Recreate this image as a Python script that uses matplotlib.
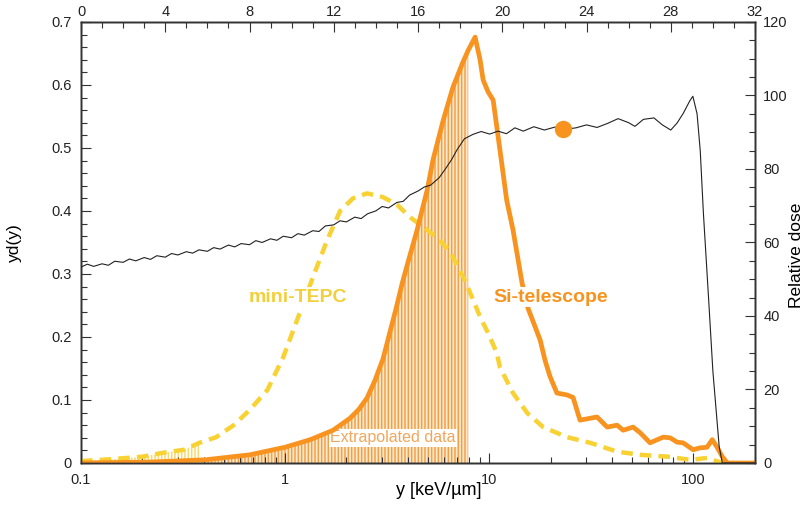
import matplotlib.pyplot as plt
import numpy as np
from matplotlib.ticker import MultipleLocator, LogLocator, NullFormatter, FuncFormatter

plt.rcParams['font.family'] = ['Liberation Sans', 'DejaVu Sans']
plt.rcParams['hatch.linewidth'] = 1.1

# Si-telescope spectrum (bottom log axis, left axis)
si_y = [0.1, 0.22, 0.405, 0.673, 1.0, 1.33, 1.72, 2.08, 2.3, 2.52, 2.75, 3.02, 3.25, 3.5,
        3.75, 4.0, 4.44, 4.97, 5.31, 5.96, 6.66, 7.46, 7.9, 8.54, 9.03, 9.35, 9.89, 10.47,
        11.3, 12.2, 13.1, 14.5, 15.5, 17.8, 18.8, 19.9, 21.5, 24.1, 25.8, 27.9, 31.3, 33.8,
        37.9, 42.4, 45.4, 50.8, 55.0, 61.5, 71.3, 77.1, 83.5, 89.3, 100, 108, 117, 124,
        131, 139, 147, 201]
si_yd = [0.0, 0.0015, 0.005, 0.013, 0.025, 0.037, 0.052, 0.071, 0.085, 0.103, 0.13, 0.165, 0.205, 0.245,
         0.285, 0.318, 0.37, 0.433, 0.481, 0.544, 0.597, 0.637, 0.655, 0.676, 0.64, 0.608, 0.589, 0.576,
         0.497, 0.417, 0.37, 0.286, 0.246, 0.195, 0.163, 0.137, 0.111, 0.108, 0.104, 0.068, 0.071, 0.073,
         0.057, 0.06, 0.052, 0.057, 0.048, 0.032, 0.041, 0.040, 0.033, 0.032, 0.021, 0.024, 0.025, 0.037,
         0.025, 0.01, 0.0, 0.0]

# mini-TEPC spectrum
tepc_y = [0.1, 0.14, 0.2, 0.25, 0.32, 0.38, 0.46, 0.56, 0.67, 0.82, 0.98, 1.18, 1.37,
          1.61, 1.86, 2.15, 2.52, 3.02, 3.54, 4.1, 4.97, 5.8, 6.5, 7.6, 8.35, 9.03, 9.89,
          10.9, 11.3, 13.1, 15.4, 18.4, 24.1, 31.3, 42.4, 55, 75, 97, 117, 130, 140]
tepc_yd = [0.003, 0.006, 0.01, 0.016, 0.021, 0.032, 0.041, 0.06, 0.084, 0.116, 0.168, 0.238, 0.295,
           0.354, 0.40, 0.42, 0.428, 0.422, 0.41, 0.39, 0.37, 0.352, 0.333, 0.29, 0.259, 0.232, 0.206,
           0.175, 0.152, 0.111, 0.079, 0.057, 0.041, 0.032, 0.018, 0.013, 0.01, 0.005, 0.008, 0.003, 0.0]

# depth dose curve (top axis, right axis)
depth = [0, 0.3, 0.6, 1.0, 1.3, 1.6, 2.0, 2.3, 2.6, 3.0, 3.3, 3.6, 4.0, 4.3, 4.6, 5.0, 5.3,
         5.6, 6.0, 6.3, 6.6, 7.0, 7.3, 7.6, 8.0, 8.3, 8.6, 9.0, 9.3, 9.6, 10.0, 10.3, 10.6,
         11.0, 11.3, 11.6, 12.0, 12.3, 12.6, 13.0, 13.3, 13.6, 14.0, 14.3, 14.6, 15.0, 15.3,
         15.6, 16.0, 16.3, 16.6, 17.0, 17.3, 17.6, 17.85, 18.2, 18.6, 19.0, 19.4, 19.8,
         20.2, 20.6, 21.0, 21.5, 22.0, 22.5, 23.0, 23.5, 24.0, 24.5, 25.0, 25.5, 26.0, 26.3,
         26.7, 27.2, 27.6, 28.0, 28.3, 28.6, 28.9, 29.05, 29.25, 29.4, 29.55, 29.8, 30.0,
         30.3, 30.45, 32]
dose = [53.3, 54.1, 53.5, 54.2, 53.8, 54.9, 54.6, 55.5, 55.0, 55.9, 55.4, 56.4, 56.0, 57.0,
        56.6, 57.5, 57.1, 58.0, 57.6, 58.6, 58.2, 59.3, 58.8, 59.7, 59.4, 60.5, 60.0, 61.0,
        60.6, 61.7, 61.3, 62.4, 62.0, 63.2, 63.0, 64.5, 64.8, 65.9, 65.6, 66.9, 66.5, 67.8,
        68.6, 69.8, 69.4, 70.9, 71.2, 72.9, 74.0, 75.1, 75.6, 77.6, 80.0, 82.6, 85.2, 88.2,
        89.4, 90.2, 89.5, 90.3, 89.6, 91.2, 90.3, 91.5, 90.6, 91.4, 90.8, 91.2, 92.0, 91.3,
        92.4, 93.7, 92.6, 91.6, 93.5, 93.9, 92.0, 90.6, 92.5, 95.2, 98.5, 99.8, 95.0, 85.0,
        68.0, 44.4, 25.0, 4.4, 0.0, 0.0]
dot_depth = [22.9]
dot_dose = [90.9]

orange = '#F7931E'
yellow = '#F8D232'
axis_col = '#333333'

fig = plt.figure(figsize=(8.1, 5.09), dpi=100)
ax = fig.add_axes([0.1, 0.0904, 0.8321, 0.8664])
ax.set_xscale('log')

si_x = np.array(si_y)
si_v = np.array(si_yd)
m = si_x <= 7.95
ax.fill_between(si_x[m], 0, si_v[m], facecolor='#FCEBD0', edgecolor='#F2A048',
                hatch='|||||', linewidth=0, zorder=1)
tx = np.array(tepc_y)
tv = np.array(tepc_yd)
mt = tx <= 0.39
ax.fill_between(tx[mt], 0, tv[mt], facecolor='none', edgecolor='#F8D870',
                hatch='|||||', linewidth=0, zorder=1)

ax.plot(tepc_y, tepc_yd, color=yellow, lw=3.2, dashes=(2.6, 1.6), zorder=3)
ax.plot(si_y, si_yd, color=orange, lw=3.4, zorder=4, solid_joinstyle='round')

ax.text(3.38, 0.04, 'Extrapolated data', color='#F2A659', fontsize=11.5,
        ha='center', va='center', zorder=2,
        bbox=dict(facecolor='white', edgecolor='none', pad=1))
ax.text(1.15, 0.263, 'mini-TEPC', color='#F3CF3A', fontsize=14, fontweight='bold',
        ha='center', va='center', zorder=5,
        bbox=dict(facecolor='white', edgecolor='none', pad=1))
ax.text(20.1, 0.263, 'Si-telescope', color=orange, fontsize=14, fontweight='bold',
        ha='center', va='center', zorder=5,
        bbox=dict(facecolor='white', edgecolor='none', pad=1))

ax.set_xlim(0.1, 201)
ax.set_ylim(0, 0.7)
ax.yaxis.set_major_locator(MultipleLocator(0.1))
ax.yaxis.set_minor_locator(MultipleLocator(0.02))
ax.yaxis.set_major_formatter(FuncFormatter(lambda v, p: f'{v:g}'))
ax.xaxis.set_major_locator(LogLocator(base=10))
ax.xaxis.set_minor_locator(LogLocator(base=10, subs=np.arange(2, 10)))
ax.xaxis.set_minor_formatter(NullFormatter())
ax.xaxis.set_major_formatter(FuncFormatter(lambda v, p: f'{v:g}'))
ax.tick_params(which='both', direction='in', color=axis_col, labelcolor='#222222',
               labelsize=10.5, width=0.8)
ax.tick_params(which='major', length=7, pad=7)
ax.tick_params(which='minor', length=4)
ax.set_xlabel('y [keV/µm]', fontsize=13)
ax.set_ylabel('yd(y)', fontsize=12.5)
ax.xaxis.set_label_coords(0.531, -0.043)
ax.yaxis.set_label_coords(-0.088, 0.5)

ax2 = ax.twinx()
ax2.set_ylim(0, 120)
ax2.yaxis.set_major_locator(MultipleLocator(20))
ax2.yaxis.set_minor_locator(MultipleLocator(5))
ax2.tick_params(which='both', direction='in', color=axis_col, labelcolor='#222222',
                labelsize=10.5, width=0.8)
ax2.tick_params(which='major', length=7, pad=6)
ax2.tick_params(which='minor', length=4)
ax2.set_ylabel('Relative dose', fontsize=12.5)
ax2.yaxis.set_label_coords(1.05, 0.47)

ax3 = ax2.twiny()
ax3.set_xlim(0, 32)
ax3.xaxis.set_major_locator(MultipleLocator(4))
ax3.xaxis.set_minor_locator(MultipleLocator(1))
ax3.tick_params(which='both', direction='in', color=axis_col, labelcolor='#222222',
                labelsize=10.5, width=0.8)
ax3.tick_params(which='major', length=7, pad=2)
ax3.tick_params(which='minor', length=4)
ax3.plot(depth, dose, color='#222222', lw=0.8, zorder=3)
ax3.plot(dot_depth, dot_dose, 'o', color=orange, markersize=11.5, zorder=4)

for a in (ax, ax2, ax3):
    for s in a.spines.values():
        s.set_color(axis_col)
        s.set_linewidth(1.0)

fig.savefig('out.png', dpi=100)
